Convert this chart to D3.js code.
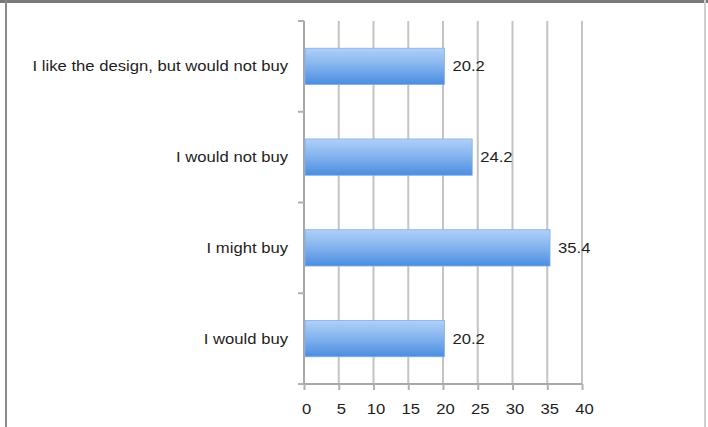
<!DOCTYPE html>
<html>
<head>
<meta charset="utf-8">
<script src="https://cdn.jsdelivr.net/npm/d3@7"></script>
<style>
  html, body { margin: 0; padding: 0; background: #fff; }
  svg { display: block; }
  text { font-family: "Liberation Sans", Arial, Helvetica, sans-serif; }
</style>
</head>
<body>
<svg id="chart" width="708" height="427"></svg>
<script>
// Survey answers, top to bottom
const categories = [
  "I like the design, but would not buy",
  "I would not buy",
  "I might buy",
  "I would buy"
];
const values = [20.2, 24.2, 35.4, 20.2];
const xTicks = [0, 5, 10, 15, 20, 25, 30, 35, 40];

const svg = d3.select("#chart");
const W = 708, H = 427;
const plotLeft = 304, plotRight = 582, plotTop = 21, plotBottom = 384;
const textStretch = 1.19; // wide lettering

// outer frame
svg.append("rect").attr("x", 0).attr("y", 0).attr("width", W).attr("height", H).attr("fill", "#fff");
svg.append("line").attr("x1", 0).attr("x2", W).attr("y1", 1.5).attr("y2", 1.5)
  .attr("stroke", "#7a7a7a").attr("stroke-width", 3);
svg.append("line").attr("x1", 6).attr("x2", 6).attr("y1", 0).attr("y2", H)
  .attr("stroke", "#8a8a8a").attr("stroke-width", 2);
svg.append("line").attr("x1", 705).attr("x2", 705).attr("y1", 0).attr("y2", H)
  .attr("stroke", "#cfcfcf").attr("stroke-width", 2);

const x = d3.scaleLinear().domain([0, 40]).range([plotLeft, plotRight]);
const y = d3.scaleBand().domain(categories).range([plotTop, plotBottom]).paddingInner(0.6).paddingOuter(0.3);
const yBand = d3.scaleBand().domain(categories).range([plotTop, plotBottom]);

// bar gradient
const defs = svg.append("defs");
const grad = defs.append("linearGradient").attr("id", "barFill")
  .attr("x1", 0).attr("y1", 0).attr("x2", 0).attr("y2", 1);
grad.append("stop").attr("offset", "0%").attr("stop-color", "#b0d0f7");
grad.append("stop").attr("offset", "45%").attr("stop-color", "#86b5ef");
grad.append("stop").attr("offset", "100%").attr("stop-color", "#4b8ddf");

// vertical gridlines
svg.append("g").selectAll("line").data(xTicks.slice(1)).join("line")
  .attr("x1", d => x(d)).attr("x2", d => x(d))
  .attr("y1", plotTop).attr("y2", plotBottom)
  .attr("stroke", "#c4c4c4").attr("stroke-width", 2);

// x axis
const xAxis = svg.append("g").attr("transform", `translate(0,${plotBottom})`)
  .call(d3.axisBottom(x).tickValues(xTicks).tickSize(6).tickPadding(14));
xAxis.select(".domain").attr("stroke", "#a8a8a8").attr("stroke-width", 2)
  .attr("d", `M${plotLeft},0H${plotRight}`);
xAxis.selectAll(".tick line").attr("stroke", "#b0b0b0").attr("stroke-width", 2);
xAxis.selectAll(".tick text")
  .attr("fill", "#1e1e1e").attr("font-size", 14)
  .attr("font-family", "Liberation Sans, Arial, sans-serif")
  .attr("transform", `scale(${textStretch},1)`)
  .attr("x", 2 / textStretch);

// y axis line and band ticks
svg.append("line").attr("x1", plotLeft).attr("x2", plotLeft).attr("y1", plotTop).attr("y2", plotBottom)
  .attr("stroke", "#a8a8a8").attr("stroke-width", 2);
const bounds = categories.map(c => yBand(c)).concat([plotBottom]);
svg.append("g").selectAll("line").data(bounds).join("line")
  .attr("x1", plotLeft - 6).attr("x2", plotLeft)
  .attr("y1", d => d).attr("y2", d => d)
  .attr("stroke", "#b0b0b0").attr("stroke-width", 2);

// category labels
svg.append("g").selectAll("text").data(categories).join("text")
  .attr("transform", d => `translate(288,${yBand(d) + yBand.bandwidth() / 2}) scale(${textStretch},1)`)
  .attr("dy", "0.35em").attr("text-anchor", "end")
  .attr("font-size", 14).attr("fill", "#1e1e1e")
  .text(d => d);

// bars
svg.append("g").selectAll("rect").data(values).join("rect")
  .attr("x", x(0) + 1)
  .attr("y", (d, i) => y(categories[i]))
  .attr("width", d => x(d) - x(0) - 1)
  .attr("height", y.bandwidth())
  .attr("fill", "url(#barFill)")
  .attr("stroke", "#7fb0ec").attr("stroke-width", 0.8);

// value labels
svg.append("g").selectAll("text").data(values).join("text")
  .attr("transform", (d, i) => `translate(${x(d) + 8},${y(categories[i]) + y.bandwidth() / 2}) scale(${textStretch},1)`)
  .attr("dy", "0.35em")
  .attr("font-size", 14).attr("fill", "#1e1e1e")
  .text(d => d.toFixed(1));
</script>
</body>
</html>
